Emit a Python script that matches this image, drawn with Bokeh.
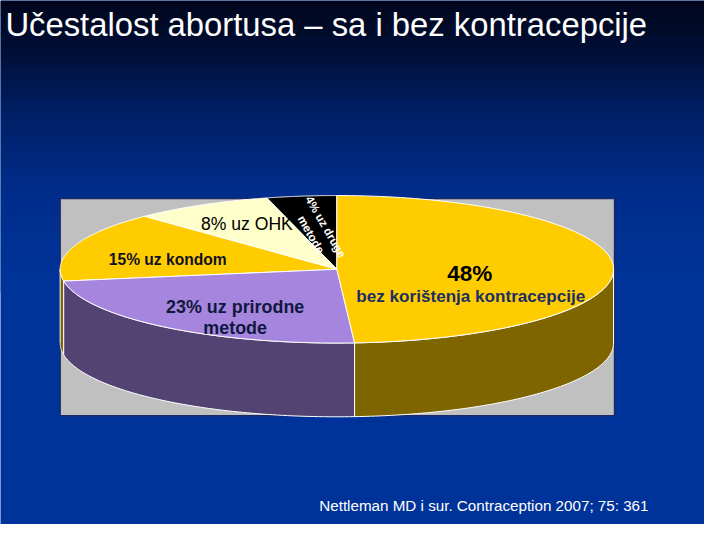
import numpy as np
from bokeh.plotting import figure
from bokeh.models import Range1d
from bokeh.core.properties import value
from bokeh.embed import file_html
from bokeh.resources import INLINE

# ---- data ----
categories = ["druge metode", "OHK", "kondom", "prirodne metode", "bez korištenja kontracepcije"]
shares = [4, 8, 15, 23, 48]
top_colors = ["#000000", "#FFFFCC", "#FFCC00", "#A585DD", "#FFCC00"]
side_colors = ["#000000", "#808066", "#806600", "#524372", "#7F6500"]

title_text = "Učestalost abortusa – sa i bez kontracepcije"
source_text = "Nettleman MD i sur. Contraception 2007; 75: 361"

W, H = 704, 524
S = W / 720.0
FONT = "Liberation Sans"

p = figure(width=W, height=H, x_range=Range1d(0, 720), y_range=Range1d(540, 0),
           output_backend="svg", toolbar_location=None, min_border=0)
p.axis.visible = False
p.grid.visible = False
p.outline_line_color = None
p.background_fill_color = "#003399"
p.border_fill_color = "#003399"

# ---- background gradient (decorative) ----
stops_y = [0, 50, 120, 200, 290, 540]
stops_c = [(0, 5, 26), (0, 14, 52), (0, 32, 104), (0, 45, 140), (0, 51, 153), (0, 51, 153)]
ys = np.arange(0, 300, 3)
cols = []
for y in ys:
    rgb = [int(round(np.interp(y + 1.5, stops_y, [c[k] for c in stops_c]))) for k in range(3)]
    cols.append("#%02x%02x%02x" % tuple(rgb))
p.quad(left=0, right=720, top=ys, bottom=ys + 3.5, fill_color=cols, line_color=None)

# ---- chart area ----
p.quad(left=61, right=628, top=204, bottom=428, fill_color="#C0C0C0",
       line_color="#1a2a66", line_width=1.5)

cx, cy, a, b, depth = 344, 277, 283, 76, 76
frac = np.array(shares, dtype=float) / sum(shares)
edges = np.deg2rad(90 + 360 * np.concatenate([[0], np.cumsum(frac)]))

side_xs, side_ys, side_cs = [], [], []
top_xs, top_ys = [], []
for i in range(len(shares)):
    t1, t2 = edges[i], edges[i + 1]
    lo, hi = max(t1, np.pi), min(t2, 2 * np.pi)
    if hi > lo:
        t = np.linspace(lo, hi, 80)
        xs = cx + a * np.cos(t)
        yt = cy - b * np.sin(t)
        yb = yt + depth
        side_xs.append(list(xs) + list(xs[::-1]))
        side_ys.append(list(yt) + list(yb[::-1]))
        side_cs.append(side_colors[i])
    t = np.linspace(t1, t2, 120)
    top_xs.append([cx] + list(cx + a * np.cos(t)))
    top_ys.append([cy] + list(cy - b * np.sin(t)))

p.patches(side_xs, side_ys, fill_color=side_cs, line_color="white", line_width=1)
p.patches(top_xs, top_ys, fill_color=top_colors, line_color="white", line_width=1)

# ---- labels ----
def txt(x, y, s, size, color, style="normal", angle=0, align="center"):
    p.text(x=[x], y=[y], text=[s], text_font=value(FONT),
           text_font_size="%.1fpx" % (size * S), text_color=color,
           text_font_style=style, text_align=align, text_baseline="middle",
           angle=angle, angle_units="deg")

txt(252, 230, "%d%% uz %s" % (shares[1], categories[1]), 18, "#000000")
txt(171, 267, "%d%% uz %s" % (shares[2], categories[2]), 16, "#111122", "bold")
txt(240, 316, "%d%% uz prirodne" % shares[3], 18.3, "#101840", "bold")
txt(240, 337, "metode", 18.3, "#101840", "bold")
txt(480, 281, "%d%%" % shares[4], 23, "#000000", "bold")
txt(481, 305, categories[4], 17.5, "#1b2f63", "bold")
txt(333, 233, "%d%% uz druge" % shares[0], 12, "#ffffff", "bold", angle=-60)
txt(318, 241, "metode", 12, "#ffffff", "bold", angle=-60)

txt(5, 25, title_text, 33.5, "#ffffff", align="left")
txt(326, 520, source_text, 15.5, "#ffffff", align="left")

open("out.html", "w").write(file_html(p, INLINE))
